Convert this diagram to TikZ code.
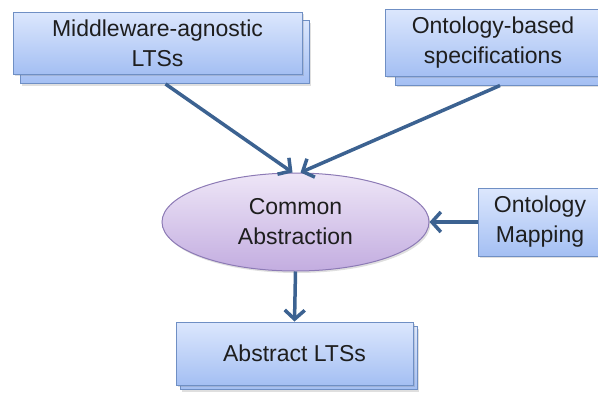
\documentclass[tikz,border=0pt]{standalone}
\usepackage{fontspec}
\setmainfont{Liberation Sans}
\usetikzlibrary{arrows.meta,shadows,calc,shapes.geometric}
\definecolor{boxtop}{HTML}{DCE7FD}
\definecolor{boxbot}{HTML}{A4BFF3}
\definecolor{boxline}{HTML}{6F8FC4}
\definecolor{elltop}{HTML}{EEE6F7}
\definecolor{ellbot}{HTML}{C3ADE0}
\definecolor{ellline}{HTML}{8C7AB5}
\definecolor{arrcol}{HTML}{3C6291}
\definecolor{txt}{HTML}{1E1E1E}
\tikzset{
  bluebox/.style={rectangle, draw=boxline, line width=1pt, top color=boxtop, bottom color=boxbot,
    inner sep=0pt, align=center, text=txt, font=\fontsize{23}{30}\selectfont,
    drop shadow={opacity=0.25, shadow xshift=1.5pt, shadow yshift=-2pt}},
  backbox/.style={bluebox},
  ellbox/.style={ellipse, draw=ellline, line width=1pt, top color=elltop, bottom color=ellbot,
    inner sep=0pt, align=center, text=txt, font=\fontsize{23}{30}\selectfont,
    drop shadow={opacity=0.25, shadow xshift=1.5pt, shadow yshift=-2pt}},
  arr/.style={draw=arrcol, line width=3.5pt, -{Straight Barb[length=9pt,width=20pt]}}
}
\begin{document}
\begin{tikzpicture}[x=1pt,y=-1pt]
\useasboundingbox (0,0) rectangle (598,392);
% top-left
\node[backbox, minimum width=289pt, minimum height=63pt] (tlb) at (164.5,52) {};
\node[bluebox, minimum width=289pt, minimum height=62pt] (tl) at (157.5,43) {Middleware-agnostic\\LTSs};
% top-right
\node[backbox, minimum width=216pt, minimum height=67pt] (trb) at (503,51.5) {};
\node[bluebox, minimum width=216pt, minimum height=67pt] (tr) at (493,42.5) {Ontology-based\\specifications};
% ellipse
\node[ellbox, minimum width=267pt, minimum height=98pt] (ca) at (295.5,222) {Common\\Abstraction};
% ontology mapping
\node[bluebox, minimum width=124pt, minimum height=68pt] (om) at (540,222) {Ontology\\Mapping};
% abstract LTSs
\node[backbox, minimum width=237pt, minimum height=63pt] (absb) at (298.5,358) {};
\node[bluebox, minimum width=237pt, minimum height=63pt] (abs) at (294.5,353.5) {Abstract LTSs};
% arrows
\draw[arr] ($(tlb.south)+(1,0)$) -- ($(ca.north)+(-3,0)$);
\draw[arr] ($(trb.south)+(-3,0)$) -- ($(ca.north)+(5,0)$);
\draw[arr] (om.west) -- (ca.east);
\draw[arr] (ca.south) -- (abs.north);
\end{tikzpicture}
\end{document}
